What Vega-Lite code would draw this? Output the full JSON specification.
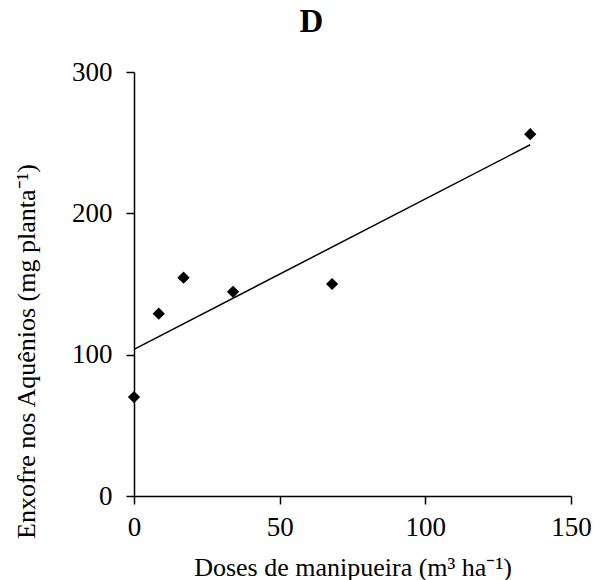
{
  "$schema": "https://vega.github.io/schema/vega-lite/v6.json",
  "width": 437,
  "height": 424,
  "autosize": {"type": "none"},
  "padding": {"left": 134, "top": 72, "right": 32, "bottom": 84},
  "background": "white",
  "config": {
    "font": "Liberation Serif",
    "view": {"stroke": null},
    "axis": {
      "grid": false,
      "domainColor": "black",
      "domainWidth": 1.5,
      "tickColor": "black",
      "tickWidth": 1.5,
      "tickSize": 8,
      "labelFont": "Liberation Serif",
      "labelFontSize": 27,
      "labelColor": "black",
      "titleFont": "Liberation Serif",
      "titleFontSize": 26,
      "titleFontWeight": "normal",
      "titleColor": "black"
    }
  },
  "title": {
    "text": "D",
    "font": "Liberation Serif",
    "fontSize": 33,
    "fontWeight": "bold",
    "color": "black",
    "anchor": "middle",
    "frame": "group",
    "dx": -41,
    "offset": 19
  },
  "datasets": {
    "observed": [
      {"dose": 0, "enxofre": 70},
      {"dose": 8.5, "enxofre": 129},
      {"dose": 17, "enxofre": 154.5},
      {"dose": 34, "enxofre": 144.5},
      {"dose": 68, "enxofre": 150},
      {"dose": 136, "enxofre": 256}
    ],
    "fitted": [
      {"dose": 0, "enxofre": 103.8},
      {"dose": 136, "enxofre": 248.5}
    ]
  },
  "layer": [
    {
      "data": {"name": "fitted"},
      "mark": {"type": "line", "color": "black", "strokeWidth": 1.5},
      "encoding": {
        "x": {
          "field": "dose",
          "type": "quantitative",
          "scale": {"domain": [0, 150], "nice": false},
          "axis": {
            "values": [0, 50, 100, 150],
            "title": "Doses de manipueira (m³ ha⁻¹)",
            "labelPadding": 10,
            "titleY": 79,
            "titleBaseline": "alphabetic",
            "labelFlush": false
          }
        },
        "y": {
          "field": "enxofre",
          "type": "quantitative",
          "scale": {"domain": [0, 300], "nice": false},
          "axis": {
            "values": [0, 100, 200, 300],
            "title": "Enxofre  nos Aquênios  (mg planta⁻¹)",
            "labelPadding": 14,
            "titleX": -108,
            "titleY": 279,
            "titleBaseline": "middle",
            "titleAngle": -90,
            "labelFlush": false
          }
        }
      }
    },
    {
      "data": {"name": "observed"},
      "mark": {"type": "point", "shape": "diamond", "filled": true, "color": "black", "size": 150, "opacity": 1},
      "encoding": {
        "x": {"field": "dose", "type": "quantitative"},
        "y": {"field": "enxofre", "type": "quantitative"}
      }
    }
  ]
}
